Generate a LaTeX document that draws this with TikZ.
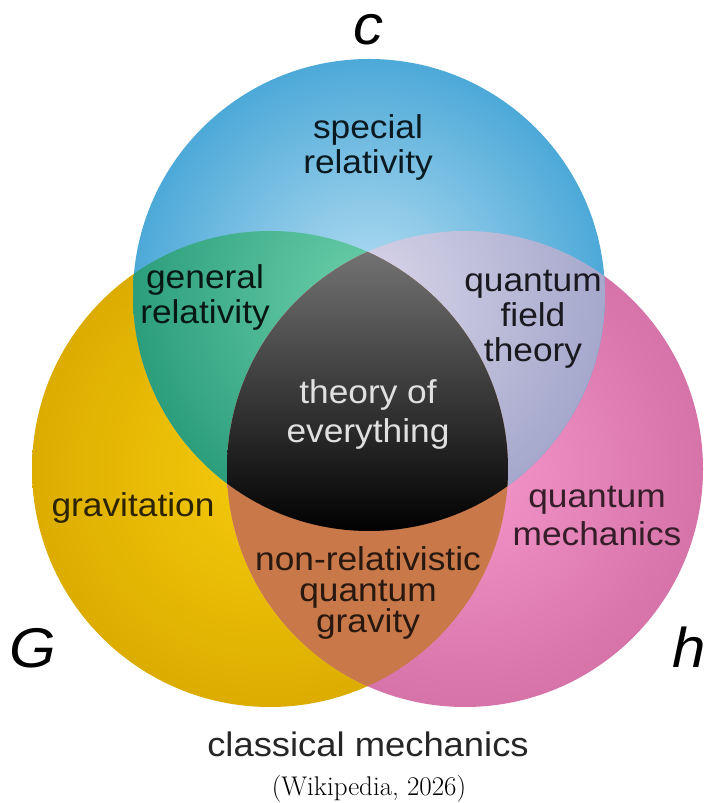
\documentclass[tikz,border=0pt]{standalone}
\usepackage{fontspec}
\newfontfamily\vennfont{Liberation Sans}[FakeStretch=1.07]
\definecolor{cblue}{HTML}{4DA9D8}
\definecolor{cbluelt}{HTML}{B6DEF2}
\definecolor{cyellow}{HTML}{DCAD00}
\definecolor{cyellowlt}{HTML}{F6CB0C}
\definecolor{cpink}{HTML}{D673A8}
\definecolor{cpinklt}{HTML}{F597CB}
\definecolor{cgreen}{HTML}{2C9E7C}
\definecolor{cgreenlt}{HTML}{6DD0AC}
\definecolor{clav}{HTML}{A5A8CC}
\definecolor{clavlt}{HTML}{D9D5E9}
\definecolor{cbrown}{HTML}{C87849}
\begin{document}
\begin{tikzpicture}[x=1pt,y=1pt,
    lbl/.style={font=\vennfont\fontsize{33}{35}\selectfont,align=center,inner sep=0pt},
    const/.style={font=\vennfont\itshape\fontsize{56}{56}\selectfont,inner sep=0pt,anchor=base}]
  \useasboundingbox (0,0) rectangle (711,803);
  % centres of the three discs
  \coordinate (cc) at (369,508);
  \coordinate (cg) at (270,334);
  \coordinate (ch) at (465,334);
  \shade[inner color=cyellowlt,outer color=cyellow] (cg) circle (238pt);
  \shade[inner color=cpinklt,outer color=cpink] (ch) circle (238pt);
  \shade[inner color=cbluelt,outer color=cblue] (cc) circle (236pt);
  % overlaps
  \begin{scope}
    \clip (cg) circle (238pt);
    \shade[inner color=cgreenlt,outer color=cgreen] (cc) circle (236pt);
  \end{scope}
  \begin{scope}
    \clip (ch) circle (238pt);
    \shade[inner color=clavlt,outer color=clav] (cc) circle (236pt);
  \end{scope}
  \begin{scope}
    \clip (cg) circle (238pt);
    \fill[cbrown] (ch) circle (238pt);
  \end{scope}
  \begin{scope}
    \clip (cg) circle (238pt);
    \clip (ch) circle (238pt);
    \clip (cc) circle (236pt);
    \shade[top color=black!55,middle color=black!92,bottom color=black] (220,270) rectangle (515,552);
  \end{scope}
  % constants
  \node[const] (c) at (368,758) {c};
  \node[const] (G) at (33,135) {G};
  \node[const,anchor=base west] (h) at (672,135) {h};
  % regions
  \node[lbl,text=black!85!cblue] (sr) at (368,656) {special\\relativity};
  \node[lbl,text=black!85!cgreen] (gr) at (205,506) {general\\relativity};
  \node[lbl,text=black!85!clav] (qft) at (533,484) {quantum\\field\\theory};
  \node[lbl,text=black!12] (toe) at (368,389) {theory of\\[4pt]everything};
  \node[lbl,anchor=base,text=black!80!cyellow] (grav) at (133,286) {gravitation};
  \node[lbl,text=black!75!cpink] (qm) at (597,287) {quantum\\[3pt]mechanics};
  \node[lbl,text=black!80!cbrown] (nrqg) at (368,210) {non-relativistic\\[-4pt]quantum\\[-4pt]gravity};
  \node[lbl,font=\vennfont\fontsize{34}{36}\selectfont,anchor=base,text=black!85] (cm) at (368,46) {classical mechanics};
  \node[font=\fontsize{27}{27}\selectfont,anchor=base,inner sep=0pt] (src) at (369,7) {(Wikipedia, 2026)};
\end{tikzpicture}
\end{document}
